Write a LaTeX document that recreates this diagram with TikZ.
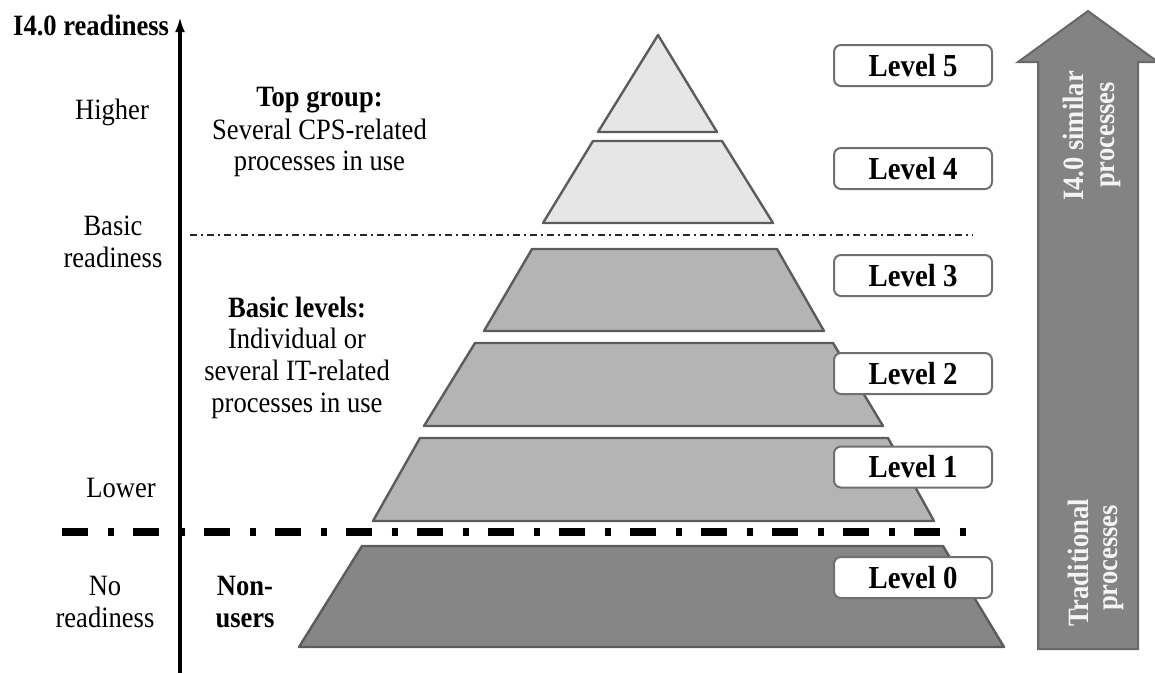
\documentclass[tikz,border=0pt]{standalone}
\usepackage{fontspec}
\setmainfont[FakeStretch=0.9]{Liberation Serif}
\usetikzlibrary{arrows.meta}
\definecolor{edgegray}{HTML}{5C5C5C}
\definecolor{boxgray}{HTML}{707070}
\definecolor{lightfill}{HTML}{E6E6E6}
\definecolor{midfill}{HTML}{B4B4B4}
\definecolor{darkfill}{HTML}{868686}
\definecolor{arrowfill}{HTML}{838383}
\definecolor{arrowedge}{HTML}{686868}
\definecolor{arrowtext}{HTML}{F4F4F4}
\begin{document}
\begin{tikzpicture}[x=1pt,y=-1pt,
  txt/.style={inner sep=0pt, anchor=base, font=\fontsize{29.5}{32}\selectfont},
  btxt/.style={inner sep=0pt, anchor=base, font=\fontsize{29.5}{32}\selectfont\bfseries},
  wtxt/.style={inner sep=0pt, anchor=base, rotate=90, text=arrowtext, font=\fontsize{29.5}{32}\selectfont\bfseries},
  layer/.style={draw=edgegray, line width=2.4pt, line join=round},
  lvl/.style={draw=boxgray, fill=white, line width=2pt, rounded corners=7pt, minimum width=158pt, minimum height=41pt, inner sep=0pt, font=\fontsize{32}{34}\selectfont\bfseries},
  thinsep/.style={draw=black!85, line width=1.4pt, dash pattern=on 7pt off 4pt on 2pt off 4pt},
  thicksep/.style={draw=black, line width=7.5pt, dash pattern=on 25.5pt off 20pt on 6.5pt off 19pt},
  axisline/.style={draw=black, line width=3.2pt, -{Latex[length=15pt,width=10pt]}},
  bigarrow/.style={fill=arrowfill, draw=arrowedge, line width=2pt, line join=miter}
]
\useasboundingbox (0,0) rectangle (1155,673);

% pyramid layers
\path[layer, fill=lightfill] (658,35) -- (717,132) -- (598,132) -- cycle;
\path[layer, fill=lightfill] (593,141) -- (722,141) -- (773,223) -- (543,223) -- cycle;
\path[layer, fill=midfill] (532,249) -- (777,249) -- (824,331) -- (484,331) -- cycle;
\path[layer, fill=midfill] (475,343) -- (833,343) -- (883,426) -- (424,426) -- cycle;
\path[layer, fill=midfill] (420,438) -- (888,438) -- (934,521) -- (373,521) -- cycle;
\path[layer, fill=darkfill] (362,546) -- (943,546) -- (1004,647) -- (299,647) -- cycle;

% separators
\coordinate (ts1) at (190,235);
\coordinate (ts2) at (973,235);
\draw[thinsep] (ts1) -- (ts2);
\coordinate (ks1) at (62,532);
\coordinate (ks2) at (968,532);
\draw[thicksep] (ks1) -- (ks2);

% axis
\coordinate (axb) at (180,673);
\coordinate (axt) at (180,17);
\draw[axisline] (axb) -- (axt);

% axis labels
\node[btxt, anchor=base west] (title) at (13,35) {I4.0 readiness};
\node[txt] (higher) at (112,119) {Higher};
\node[txt] (basic1) at (113,235) {Basic};
\node[txt] (basic2) at (113,267) {readiness};
\node[txt] (lower) at (121,497) {Lower};
\node[txt] (no1) at (105,595) {No};
\node[txt] (no2) at (105,627) {readiness};

% group labels
\node[btxt] (tg1) at (319.5,106) {Top group:};
\node[txt] (tg2) at (319.5,139) {Several CPS-related};
\node[txt] (tg3) at (319.5,170) {processes in use};
\node[btxt] (bl1) at (297,317) {Basic levels:};
\node[txt] (bl2) at (297,348) {Individual or};
\node[txt] (bl3) at (297,380) {several IT-related};
\node[txt] (bl4) at (297,412) {processes in use};
\node[btxt] (nu1) at (245,595) {Non-};
\node[btxt] (nu2) at (245,627) {users};

% level boxes
\node[lvl] (l5) at (913,65.5) {Level 5};
\node[lvl] (l4) at (913,168.5) {Level 4};
\node[lvl] (l3) at (913,275.5) {Level 3};
\node[lvl] (l2) at (913,373.5) {Level 2};
\node[lvl] (l1) at (913,467) {Level 1};
\node[lvl] (l0) at (913,577.5) {Level 0};

% big arrow
\path[bigarrow] (1038,649) -- (1038,62) -- (1018,62) -- (1088,11) -- (1158,62) -- (1138,62) -- (1138,649) -- cycle;
\node[wtxt] (up1) at (1083,136) {I4.0 similar};
\node[wtxt] (up2) at (1114,135) {processes};
\node[wtxt] (tr1) at (1088,563) {Traditional};
\node[wtxt] (tr2) at (1117,558) {processes};
\end{tikzpicture}
\end{document}
